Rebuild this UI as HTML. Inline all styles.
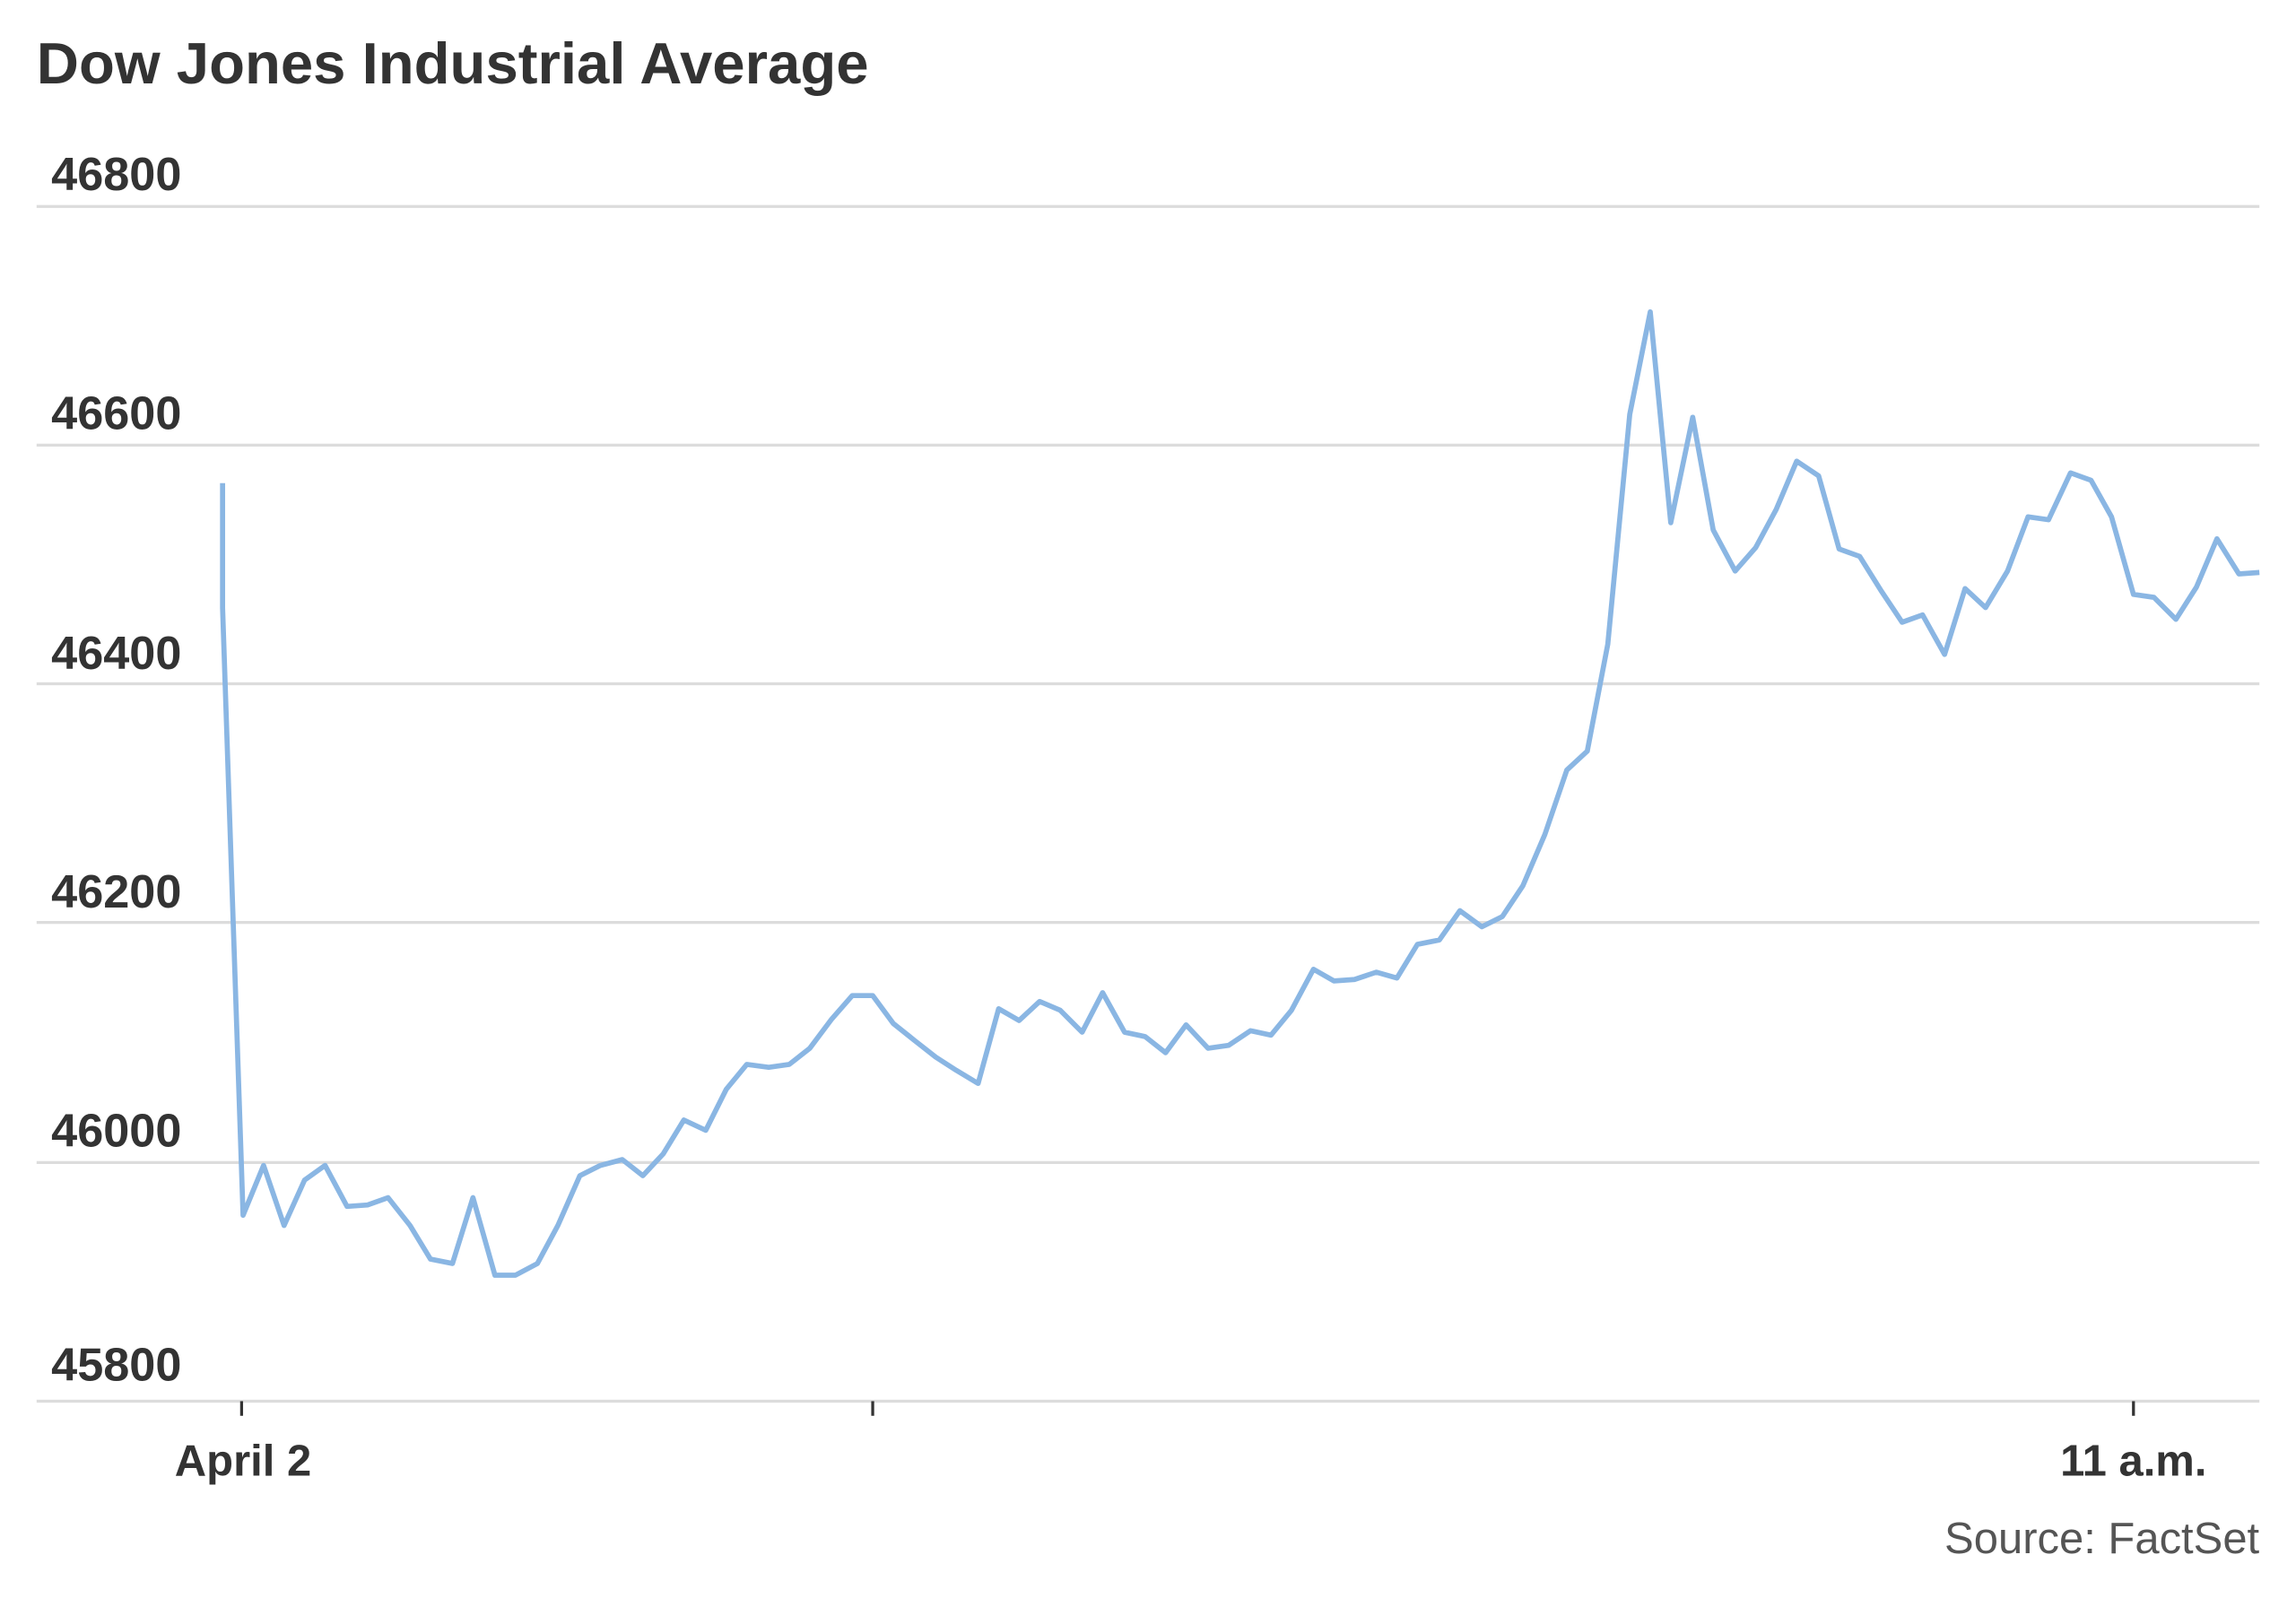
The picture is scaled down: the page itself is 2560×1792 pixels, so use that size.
<!DOCTYPE html>
<html><head><meta charset="utf-8"><style>
html,body{margin:0;padding:0;background:#fff;}
svg{display:block;}
text{font-family:"Liberation Sans",Arial,sans-serif;fill:#333;}
</style></head><body>
<svg width="2560" height="1792" viewBox="0 0 1568 1097.6" xmlns="http://www.w3.org/2000/svg">
<rect width="1568" height="1097.6" fill="#fff"/>
<text x="25" y="57" font-size="40" font-weight="bold">Dow Jones Industrial Average</text>
<g stroke="#dcdcdc" stroke-width="2">
<line x1="25" x2="1543" y1="141" y2="141"/>
<line x1="25" x2="1543" y1="304" y2="304"/>
<line x1="25" x2="1543" y1="467" y2="467"/>
<line x1="25" x2="1543" y1="630" y2="630"/>
<line x1="25" x2="1543" y1="794" y2="794"/>
<line x1="25" x2="1543" y1="957" y2="957"/>
</g>
<g font-size="32" font-weight="bold">
<text x="35" y="130">46800</text>
<text x="35" y="293">46600</text>
<text x="35" y="457">46400</text>
<text x="35" y="620">46200</text>
<text x="35" y="783">46000</text>
<text x="35" y="943">45800</text>
</g>
<g stroke="#333" stroke-width="2">
<line x1="165" x2="165" y1="957" y2="967"/>
<line x1="596" x2="596" y1="957" y2="967"/>
<line x1="1457" x2="1457" y1="957" y2="967"/>
</g>
<g font-size="30" font-weight="bold" text-anchor="middle">
<text x="166" y="1008">April 2</text>
<text x="1457" y="1008">11 a.m.</text>
</g>
<text x="1543" y="1061" font-size="30" text-anchor="end" style="fill:#555">Source: FactSet</text>
<polyline fill="none" stroke="#8ab6e3" stroke-width="3.5" stroke-linejoin="round" points="152,330 152,415 166,830 180,796 194,837 208,806 222,796 237,824 251,823 265,818 280,837 294,860 309,863 323,818 338,871 352,871 367,863 381,837 396,803 410,796 425,792 439,803 453,788 467,765 482,772 496,744 510,727 525,729 539,727 553,716 568,696 582,680 596,680 610,699 625,711 639,722 653,731 668,740 682,689 696,697 710,684 724,690 739,705 753,678 768,705 782,708 796,719 810,700 825,716 839,714 854,704 868,707 882,690 897,662 911,670 925,669 940,664 954,668 968,645 983,642 997,622 1012,633 1026,626 1040,605 1055,570 1070,526 1084,513 1098,440 1113,283 1127,213 1141,357 1156,285 1170,362 1185,390 1199,374 1213,348 1227,315 1242,325 1256,375 1270,380 1285,404 1299,425 1313,420 1328,447 1342,402 1356,415 1371,390 1385,353 1399,355 1414,323 1428,328 1442,353 1457,406 1471,408 1486,423 1500,401 1514,368 1529,392 1543,391"/>
</svg>
</body></html>
